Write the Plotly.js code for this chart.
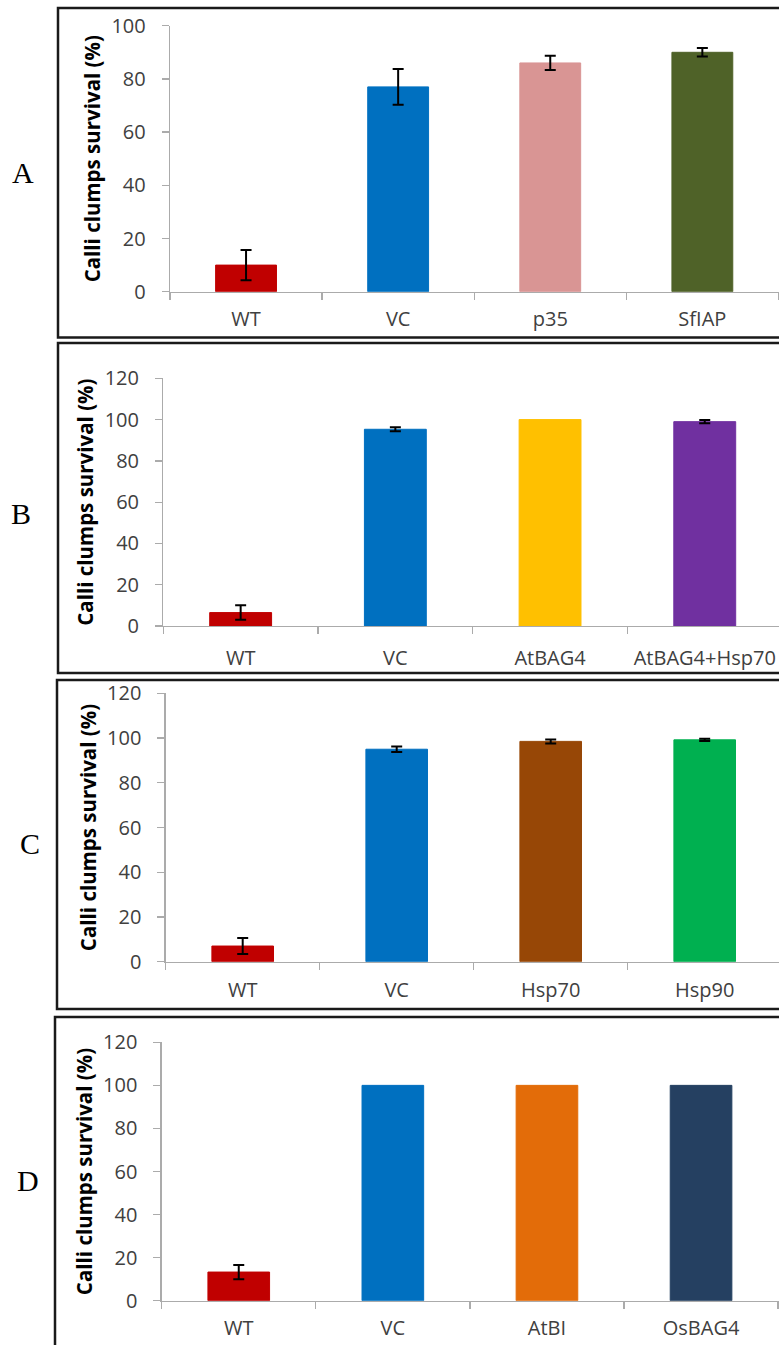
<!DOCTYPE html>
<html>
<head>
<meta charset="utf-8">
<script src="https://cdn.plot.ly/plotly-3.0.1.min.js"></script>
<style>
  html, body { margin: 0; padding: 0; background: #ffffff; }
  #chart { width: 779px; height: 1345px; }
</style>
</head>
<body>
<div id="chart"></div>
<script>
// ---------- data ----------
const categoriesA = ["WT", "VC", "p35", "SfIAP"];
const valuesA = [10, 77, 86, 90];
const errorsA = [5.7, 6.7, 2.7, 1.6];

const categoriesB = ["WT", "VC", "AtBAG4", "AtBAG4+Hsp70"];
const valuesB = [6.5, 95.3, 100, 99];
const errorsB = [3.5, 1.0, NaN, 0.8];   // NaN = no error bar drawn

const categoriesC = ["WT", "VC", "Hsp70", "Hsp90"];
const valuesC = [7, 95, 98.5, 99.2];
const errorsC = [3.6, 1.2, 0.9, 0.5];

const categoriesD = ["WT", "VC", "AtBI", "OsBAG4"];
const valuesD = [13.3, 100, 100, 100];
const errorsD = [3.3, NaN, NaN, NaN];

const panelLetters = ["A", "B", "C", "D"];
const yTitle = "Calli clumps survival (%)";

// ---------- styles ----------
const colorsA = ["#C00000", "#0070C0", "#D99594", "#4F6228"];
const colorsB = ["#C00000", "#0070C0", "#FFC000", "#7030A0"];
const colorsC = ["#C00000", "#0070C0", "#974706", "#00B050"];
const colorsD = ["#C00000", "#0070C0", "#E36C09", "#254061"];

const W = 779, H = 1345;
const px = x => x / W;
const py = y => 1 - y / H;

// panel geometry (pixels)
const panels = [
  {cats: categoriesA, vals: valuesA, errs: errorsA, cols: colorsA, left: 170, cw: 152.1, y0: 291.7, y1: 25.7, ymax: 100, box: [58, 8, 337.5], letter: [23, 172], xso: 9},
  {cats: categoriesB, vals: valuesB, errs: errorsB, cols: colorsB, left: 163.3, cw: 154.7, y0: 626, y1: 378.3, ymax: 120, box: [58, 343, 673], letter: [21, 513], xso: 14},
  {cats: categoriesC, vals: valuesC, errs: errorsC, cols: colorsC, left: 165.7, cw: 154, y0: 961.7, y1: 693.3, ymax: 120, box: [57, 680, 1009], letter: [30, 843], xso: 10},
  {cats: categoriesD, vals: valuesD, errs: errorsD, cols: colorsD, left: 161.7, cw: 154.1, y0: 1300.7, y1: 1042.3, ymax: 120, box: [55, 1017, 1400], letter: [28, 1180], xso: 9}
];

const traces = [];
const layout = {
  width: W, height: H,
  margin: {l: 0, r: 0, t: 0, b: 0},
  paper_bgcolor: "#ffffff",
  plot_bgcolor: "#ffffff",
  showlegend: false,
  bargap: 0.6,
  shapes: [],
  annotations: []
};

const tickFont = {family: "Open Sans, sans-serif", size: 20, color: "#404040"};
const xFont = {family: "Open Sans, sans-serif", size: 20, color: "#404040"};

panels.forEach((p, i) => {
  const n = i === 0 ? "" : String(i + 1);
  const xa = "x" + n, ya = "y" + n;
  traces.push({
    type: "bar",
    x: p.cats,
    y: p.vals,
    xaxis: xa, yaxis: ya,
    width: 0.4,
    marker: {color: p.cols, line: {color: p.cols, width: 1}},
    error_y: {type: "data", array: p.errs, visible: true, color: "#000000", thickness: 2, width: 5.5},
    hoverinfo: "x+y"
  });
  const rangeEnd = (W - p.left) / p.cw - 0.5;
  layout["xaxis" + n] = {
    domain: [px(p.left), 1],
    range: [-0.5, rangeEnd],
    anchor: ya,
    type: "category",
    showline: true, linecolor: "#ababab", linewidth: 1.3,
    ticks: "outside", tickson: "boundaries", ticklen: 7, tickcolor: "#ababab", tickwidth: 1.3,
    showgrid: false, zeroline: false,
    tickfont: xFont,
    ticklabelstandoff: p.xso,
    fixedrange: true
  };
  layout["yaxis" + n] = {
    domain: [py(p.y0), py(p.y1)],
    range: [0, p.ymax],
    dtick: 20,
    anchor: xa,
    showline: true, linecolor: "#ababab", linewidth: 1.3,
    ticks: "outside", ticklen: 7, tickcolor: "#ababab", tickwidth: 1.3,
    showgrid: false, zeroline: false,
    tickfont: tickFont,
    ticklabelstandoff: 12,
    title: {text: "<b>" + yTitle + "</b>", font: {family: "Open Sans, sans-serif", size: 20.5, color: "#000000"}, standoff: 5},
    fixedrange: true
  };
  layout.shapes.push({
    type: "rect", xref: "paper", yref: "paper",
    x0: px(p.box[0]), x1: 1.05, y0: py(p.box[2]), y1: py(p.box[1]),
    line: {color: "#1a1a1a", width: 2.5}, fillcolor: "rgba(0,0,0,0)", layer: "below"
  });
  layout.annotations.push({
    xref: "paper", yref: "paper",
    x: px(p.letter[0]), y: py(p.letter[1]),
    xanchor: "center", yanchor: "middle",
    text: panelLetters[i], showarrow: false,
    font: {family: "Liberation Serif, Times New Roman, serif", size: 30, color: "#000000"}
  });
});

Plotly.newPlot("chart", traces, layout, {displayModeBar: false, staticPlot: true});
</script>
</body>
</html>
